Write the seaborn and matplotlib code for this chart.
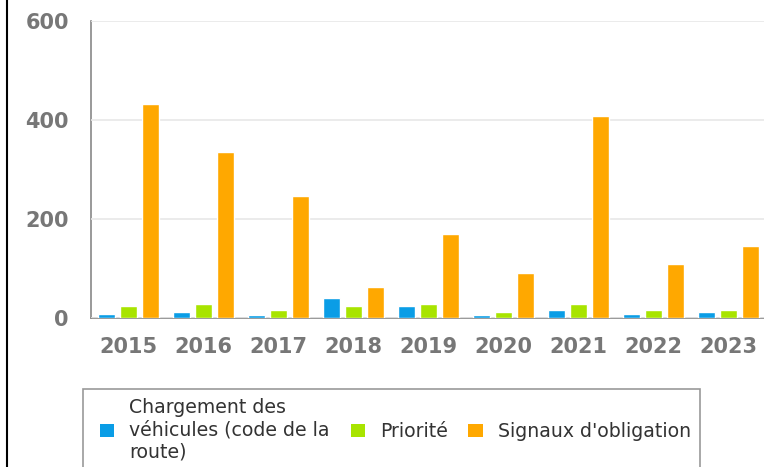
import pandas as pd
import seaborn as sns
import matplotlib
matplotlib.use('Agg')
import matplotlib.pyplot as plt
from matplotlib.lines import Line2D
from matplotlib.patches import Rectangle, Patch

# données
years = ["2015", "2016", "2017", "2018", "2019", "2020", "2021", "2022", "2023"]
chargement = [9, 13, 6, 41, 25, 6, 17, 9, 13]
priorite = [25, 29, 17, 25, 29, 13, 29, 17, 17]
signaux = [432, 336, 246, 62, 170, 90, 408, 110, 146]
series_names = ["Chargement des\nvéhicules (code de la\nroute)", "Priorité", "Signaux d'obligation"]
colors = ["#0a9de6", "#a8e400", "#ffa800"]

df = pd.DataFrame({
    "annee": years * 3,
    "valeur": chargement + priorite + signaux,
    "serie": [series_names[0]] * 9 + [series_names[1]] * 9 + [series_names[2]] * 9,
})

sns.set_style("white")
plt.rcParams['font.family'] = ['DejaVu Sans']

W, H = 764, 467
fig = plt.figure(figsize=(W / 100, H / 100), dpi=100)
ax = fig.add_axes([91 / W, 1 - 318 / H, 675 / W, 297 / H])

sns.barplot(data=df, x="annee", y="valeur", hue="serie", palette=colors,
            width=0.87, gap=0.2, saturation=1, ax=ax)
ax.legend_.remove()

ax.set_ylim(0, 600)
ax.set_xlim(-0.5, 8.5)
ax.set_yticks([0, 200, 400, 600])
ax.set_xlabel("")
ax.set_ylabel("")
ax.yaxis.grid(True, color="#e8e8e8", linewidth=1.2)
ax.set_axisbelow(True)

for s in ["top", "right"]:
    ax.spines[s].set_visible(False)
for s in ["left", "bottom"]:
    ax.spines[s].set_color("#888888")
    ax.spines[s].set_linewidth(1.2)
    ax.spines[s].set_zorder(0.5)

ax.set_xticks([i - 0.5 for i in range(10)], minor=True)
ax.tick_params(axis="x", which="major", length=0, pad=13.5, labelsize=15, labelcolor="#777777")
ax.tick_params(axis="x", which="minor", length=8, color="#888888", width=1.2)
ax.tick_params(axis="y", length=11, color="#888888", width=1.2, pad=5, labelsize=15, labelcolor="#777777")
for lab in ax.get_xticklabels() + ax.get_yticklabels():
    lab.set_fontweight("bold")

# légende
handles = [Patch(facecolor=c, edgecolor="none") for c in colors]
fig.legend(handles, series_names, loc="upper left", ncol=3, frameon=False,
           bbox_to_anchor=(100 / W, 1 - 398 / H), borderpad=0, borderaxespad=0,
           prop={"family": "DejaVu Sans", "size": 13.6},
           handlelength=0.75, handleheight=0.7, handletextpad=0.8, columnspacing=1.1,
           labelspacing=0.3, labelcolor="#333333")
fig.add_artist(Rectangle((83 / W, -0.05), 617 / W, (H - 389) / H + 0.05,
                         transform=fig.transFigure, fill=False, edgecolor="#999999", linewidth=1.2))
fig.add_artist(Line2D([7 / W, 7 / W], [0, 1], transform=fig.transFigure, color="black", linewidth=1.5))

fig.savefig("out.png", dpi=100)
